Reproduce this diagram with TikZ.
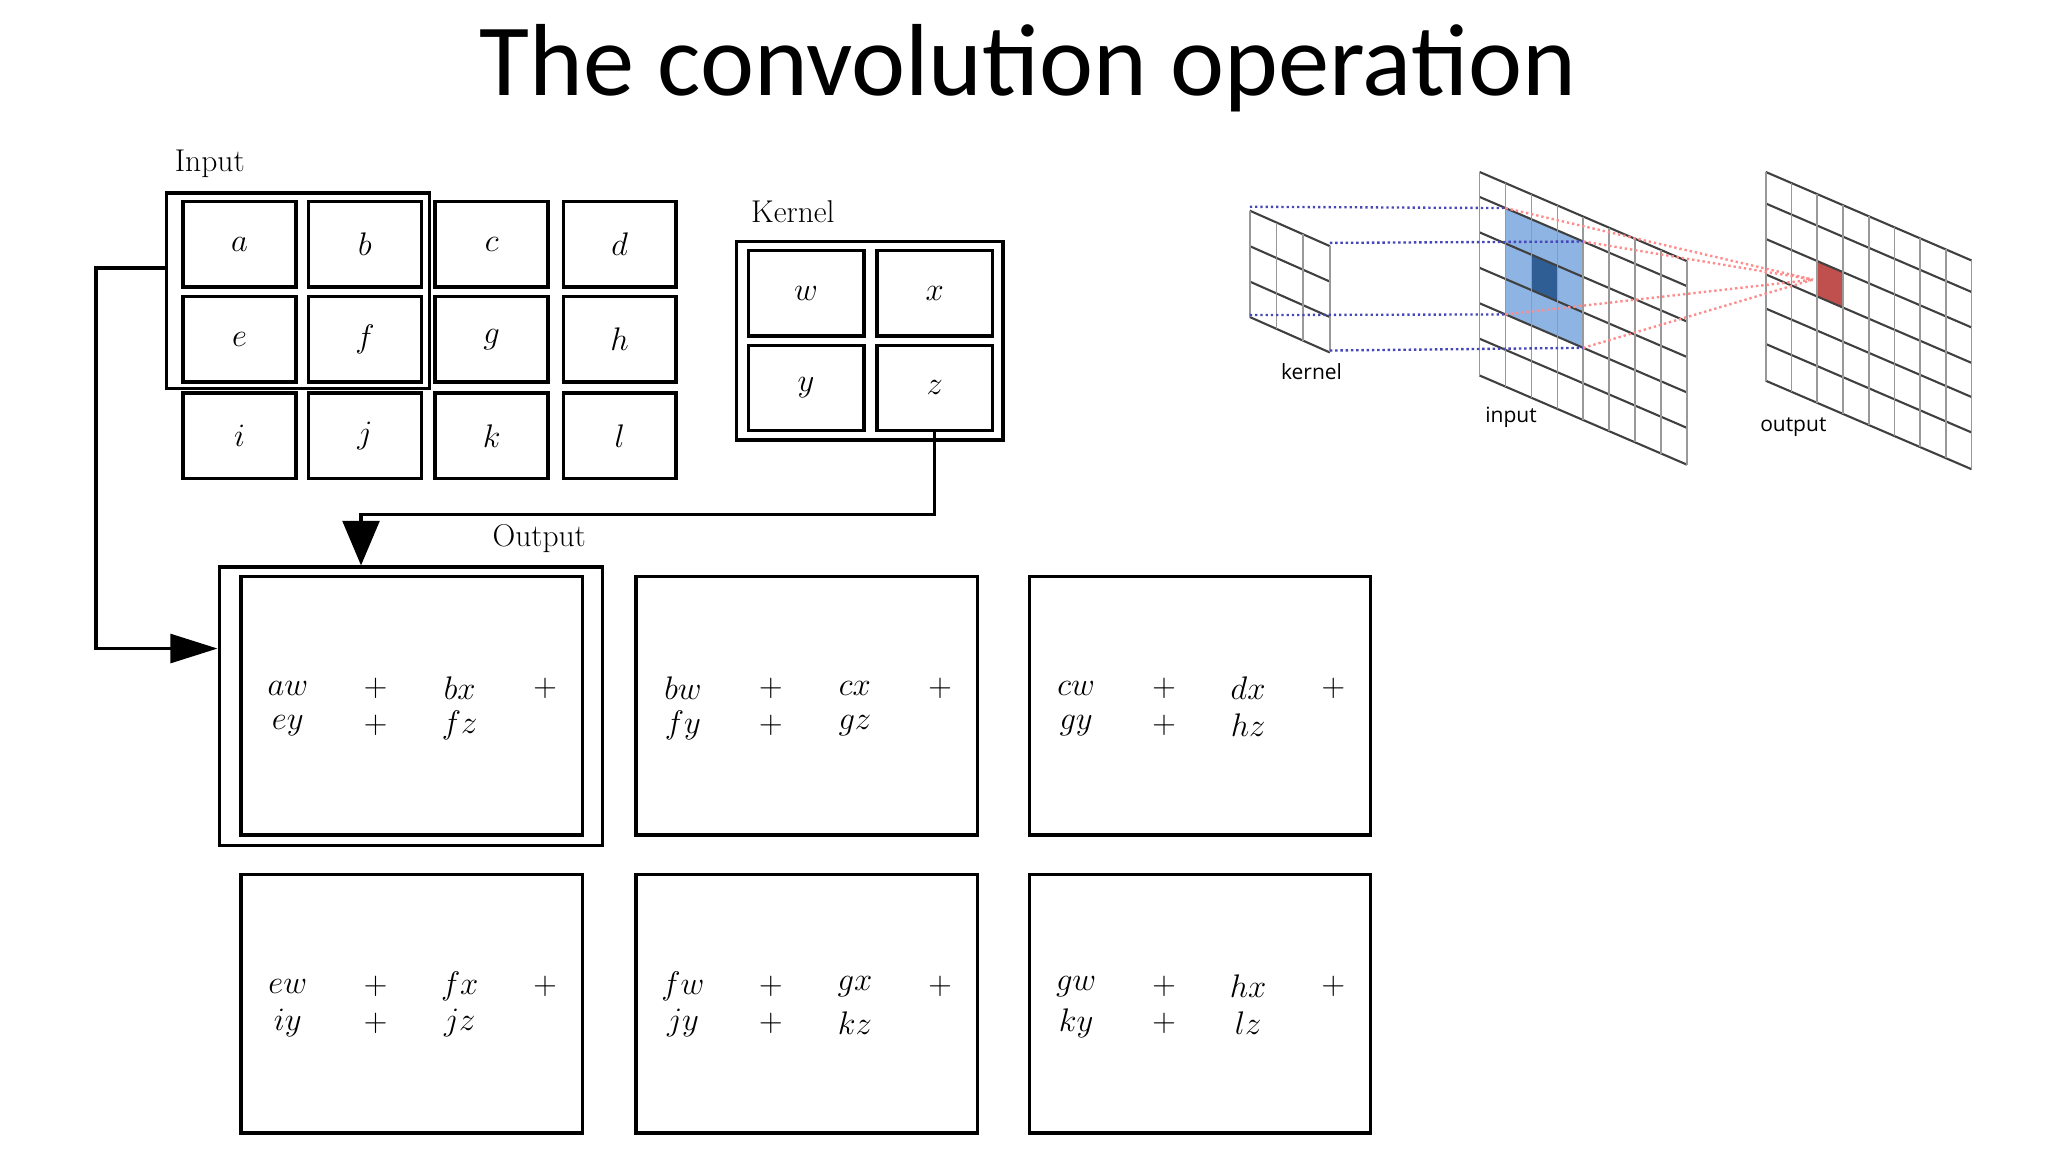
\documentclass[tikz,border=0pt]{standalone}
\usepackage{fontspec}
\newfontfamily\titlefont{Carlito}
\newfontfamily\labfont{Open Sans}
\usetikzlibrary{arrows.meta,calc}
\begin{document}
\begin{tikzpicture}[x=1pt,y=-1pt,
  cell/.style={draw,line width=2.6pt,minimum width=86pt,minimum height=65pt,inner sep=0,font=\fontsize{24}{28}\selectfont},
  obox/.style={draw,line width=2.6pt,minimum width=260pt,minimum height=197pt,inner sep=0},
  otext/.style={font=\fontsize{25}{28}\selectfont,inner sep=0},
  lab/.style={font=\fontsize{24}{28}\selectfont,inner sep=0},
  conn/.style={line width=2.6pt},
  vline/.style={draw=black!40,line width=1.3pt},
  hline/.style={draw=black!75,line width=1.6pt},
  bdot/.style={draw=blue!45!gray,line width=1.8pt,dash pattern=on 1.8pt off 2.2pt},
  rdot/.style={draw=red!45!white,line width=1.8pt,dash pattern=on 1.8pt off 2.2pt},
  slab/.style={font=\labfont\fontsize{16}{18}\selectfont,inner sep=0}]
\useasboundingbox (0,0) rectangle (1560,877.5);
\node[font=\titlefont\fontsize{78}{80}\selectfont] (title) at (783,52) {The convolution operation};
% Input
\node[lab,anchor=west] (inlab) at (133,125) {Input};
\node[draw,line width=2.6pt,minimum width=200pt,minimum height=149pt,inner sep=0] (inbox) at (227,221.5) {};
\foreach \l/\c/\r in {a/182.5/186,b/278/186,c/374.5/186,d/472/186,
                      e/182.5/258.5,f/278/258.5,g/374.5/258.5,h/472/258.5,
                      i/182.5/332,j/278/332,k/374.5/332,l/472/332}
  \node[cell] (in\l) at (\c,\r) {$\l$};
% Kernel
\node[lab,anchor=west] (klab) at (572,161) {Kernel};
\node[draw,line width=2.6pt,minimum width=203pt,minimum height=151pt,inner sep=0] (kbox) at (662.5,259.5) {};
\foreach \l/\c/\r in {w/614/223.5,x/712/223.5,y/614/295.5,z/712/295.5}
  \node[cell,minimum width=88pt] (k\l) at (\c,\r) {$\l$};
% Output
\node[lab,anchor=west] (olab) at (375,410) {Output};
\node[draw,line width=2.6pt,minimum width=292pt,minimum height=212pt,inner sep=0] (ob1out) at (313,538) {};
\newcommand\myobox[8]{%
  \node[obox] (#1) at (#2,#3) {};
  \node[otext] (#1t1) at ($(#1.west)+(37,-13)$) {$#4$};
  \node[otext] (#1p1) at ($(#1.west)+(104,-13)$) {$+$};
  \node[otext] (#1t2) at ($(#1.west)+(168,-13)$) {$#5$};
  \node[otext] (#1p2) at ($(#1.west)+(233,-13)$) {$+$};
  \node[otext] (#1t3) at ($(#1.west)+(37,15)$) {$#6$};
  \node[otext] (#1p3) at ($(#1.west)+(104,15)$) {$+$};
  \node[otext] (#1t4) at ($(#1.west)+(168,15)$) {$#7$};}
\myobox{ob1}{313.5}{537.5}{aw}{bx}{ey}{fz}{}
\myobox{ob2}{614.5}{537.5}{bw}{cx}{fy}{gz}{}
\myobox{ob3}{914}{537.5}{cw}{dx}{gy}{hz}{}
\myobox{ob4}{313.5}{764.5}{ew}{fx}{iy}{jz}{}
\myobox{ob5}{614.5}{764.5}{fw}{gx}{jy}{kz}{}
\myobox{ob6}{914}{764.5}{gw}{hx}{ky}{lz}{}
% connectors
\coordinate (b1) at (275,392);
\draw[conn,-{Triangle[length=34pt,width=28pt]}] (kz.south) |- (b1) -- (b1 |- ob1out.north);
\coordinate (s1) at (inbox.west |- 0,204);
\coordinate (b2) at (73,494);
\draw[conn,-{Triangle[length=36pt,width=22pt]}] (s1) -| (b2) -- (b2 -| ob1out.west);
% ===== right figure =====
% kernel grid
\foreach \y in {160.5,187.5,214.5,241.5}
  \draw[hline] (952,\y) -- (1013,{\y+27});
\foreach \c in {0,1,2,3}
  \draw[vline] ({952+20.3*\c},{160.5+0.443*20.3*\c}) -- ({952+20.3*\c},{241.5+0.443*20.3*\c});
\node[slab] (kern) at (999,283) {kernel};
% input grid
\def\ik{0.43}
\fill[blue!40!cyan!35!white,fill=blue!45!white!85!cyan] ({1127+19.75},{150+\ik*19.75}) -- ({1127+4*19.75},{150+\ik*4*19.75}) -- ({1127+4*19.75},{231+\ik*4*19.75}) -- ({1127+19.75},{231+\ik*19.75}) -- cycle;
\fill[fill={rgb,255:red,141;green,180;blue,226}] ({1127+19.75},{150+\ik*19.75}) -- ({1127+4*19.75},{150+\ik*4*19.75}) -- ({1127+4*19.75},{231+\ik*4*19.75}) -- ({1127+19.75},{231+\ik*19.75}) -- cycle;
\fill[fill={rgb,255:red,47;green,94;blue,149}] ({1127+2*19.75},{177+\ik*2*19.75}) -- ({1127+3*19.75},{177+\ik*3*19.75}) -- ({1127+3*19.75},{204+\ik*3*19.75}) -- ({1127+2*19.75},{204+\ik*2*19.75}) -- cycle;
\foreach \y in {131,150,177,204,231,258,286}
  \draw[hline] (1127,\y) -- ({1127+8*19.75},{\y+\ik*8*19.75});
\foreach \c in {0,...,8}
  \draw[vline] ({1127+19.75*\c},{131+\ik*19.75*\c}) -- ({1127+19.75*\c},{286+\ik*19.75*\c});
\node[slab] (inp) at (1151,318) {input};
% output grid
\fill[fill={rgb,255:red,192;green,80;blue,77}] ({1345+2*19.6},{182+\ik*2*19.6}) -- ({1345+3*19.6},{182+\ik*3*19.6}) -- ({1345+3*19.6},{209+\ik*3*19.6}) -- ({1345+2*19.6},{209+\ik*2*19.6}) -- cycle;
\foreach \y in {131,155,182,209,235,262,290}
  \draw[hline] (1345,\y) -- ({1345+8*19.6},{\y+\ik*8*19.6});
\foreach \c in {0,...,8}
  \draw[vline] ({1345+19.6*\c},{131+\ik*19.6*\c}) -- ({1345+19.6*\c},{290+\ik*19.6*\c});
\node[slab] (outp) at (1366,325) {output};
% dotted projection lines
\coordinate (btl) at ({1127+19.75},{150+\ik*19.75});
\coordinate (btr) at ({1127+4*19.75},{150+\ik*4*19.75});
\coordinate (bbl) at ({1127+19.75},{231+\ik*19.75});
\coordinate (bbr) at ({1127+4*19.75},{231+\ik*4*19.75});
\draw[bdot] (952,157.5) -- (btl);
\draw[bdot] (1013,185) -- (btr);
\draw[bdot] (952,240) -- (bbl);
\draw[bdot] (1013,267) -- (bbr);
\coordinate (rp) at (1381,213);
\foreach \p in {btl,btr,bbl,bbr} \draw[rdot] (\p) -- (rp);
\end{tikzpicture}
\end{document}
